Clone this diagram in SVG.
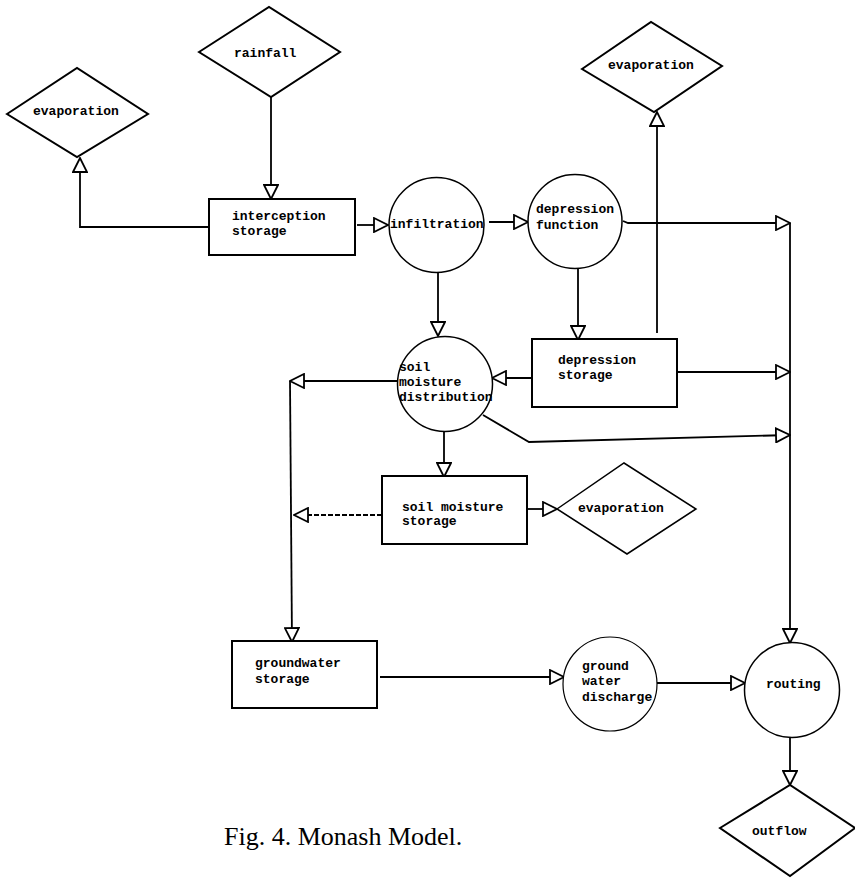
<svg xmlns="http://www.w3.org/2000/svg" width="855" height="879" viewBox="0 0 855 879">
<defs>
<style>
.shape{fill:#fff;stroke:#000;stroke-width:2}
.circ{fill:#fff;stroke:#000;stroke-width:1.5}
.lbl{font-family:"Liberation Mono","DejaVu Sans Mono",monospace;font-weight:bold;font-size:13px;fill:#000}
.cap{font-family:"Liberation Serif","Times New Roman",serif;font-size:26px;fill:#000}
.conn{fill:none;stroke:#000;stroke-width:1.8}
.dash{stroke-dasharray:5 2}
</style>
<marker id="arr" viewBox="0 0 16 16" refX="15" refY="8" markerWidth="16" markerHeight="16" markerUnits="userSpaceOnUse" orient="auto">
<path d="M1,1 L15,8 L1,15 Z" fill="#fff" stroke="#000" stroke-width="1.8"/>
</marker>
</defs>
<rect width="855" height="879" fill="#fff"/>
<g id="connectors">
<path class="conn" d="M271,97 V199" marker-end="url(#arr)"/>
<path class="conn" d="M209,227 H80 V158" marker-end="url(#arr)"/>
<path class="conn" d="M357,225 H388" marker-end="url(#arr)"/>
<path class="conn" d="M489,222 H528" marker-end="url(#arr)"/>
<path class="conn" d="M623,221 L628,223 H790" marker-end="url(#arr)"/>
<path class="conn" d="M438,272 V336" marker-end="url(#arr)"/>
<path class="conn" d="M578,269 V340" marker-end="url(#arr)"/>
<path class="conn" d="M657,333 V112" marker-end="url(#arr)"/>
<path class="conn" d="M677,372 H790" marker-end="url(#arr)"/>
<path class="conn" d="M534,378 H492" marker-end="url(#arr)"/>
<path class="conn" d="M398,381 H290" marker-end="url(#arr)"/>
<path class="conn" d="M290,381 L292,642" marker-end="url(#arr)"/>
<path class="conn" d="M483,415 L529,442 L790,435" marker-end="url(#arr)"/>
<path class="conn" d="M444,432 V477" marker-end="url(#arr)"/>
<path class="conn dash" d="M382,515 H294" marker-end="url(#arr)"/>
<path class="conn" d="M527,509 H557" marker-end="url(#arr)"/>
<path class="conn" d="M380,677 H564" marker-end="url(#arr)"/>
<path class="conn" d="M657,683 H745" marker-end="url(#arr)"/>
<path class="conn" d="M790,223 V643" marker-end="url(#arr)"/>
<path class="conn" d="M790,737 V785" marker-end="url(#arr)"/>
</g>
<g id="evaporation1">
<polygon class="shape" points="7,114 77,68 148,114 77,157"/>
<text class="lbl" x="33" y="115">evaporation</text>
</g>
<g id="rainfall">
<polygon class="shape" points="199,52 269,7 340,52 271,97"/>
<text class="lbl" x="234" y="57">rainfall</text>
</g>
<g id="evaporation2">
<polygon class="shape" points="582,69 651,22 722,66 654,112"/>
<text class="lbl" x="608" y="69">evaporation</text>
</g>
<g id="interception">
<rect class="shape" x="209" y="199" width="146" height="56"/>
<text class="lbl" x="232" y="220">interception</text>
<text class="lbl" x="232" y="235">storage</text>
</g>
<g id="infiltration">
<circle class="circ" cx="436.5" cy="225" r="47.5"/>
<text class="lbl" x="390" y="228">infiltration</text>
</g>
<g id="depression-function">
<circle class="circ" cx="575" cy="221.5" r="47"/>
<text class="lbl" x="536" y="213">depression</text>
<text class="lbl" x="536" y="229">function</text>
</g>
<g id="depression-storage">
<rect class="shape" x="532" y="339" width="145" height="68"/>
<text class="lbl" x="558" y="364">depression</text>
<text class="lbl" x="558" y="379">storage</text>
</g>
<g id="soil-moisture-distribution">
<circle class="circ" cx="445" cy="384" r="47.5"/>
<text class="lbl" x="399" y="371">soil</text>
<text class="lbl" x="399" y="386">moisture</text>
<text class="lbl" x="399" y="401">distribution</text>
</g>
<g id="soil-moisture-storage">
<rect class="shape" x="382" y="476" width="145" height="68"/>
<text class="lbl" x="402" y="511">soil moisture</text>
<text class="lbl" x="402" y="525">storage</text>
</g>
<g id="evaporation3">
<polygon class="shape" points="557,509 624,463 696,509 627,554" style="stroke-width:1.5"/>
<text class="lbl" x="578" y="512">evaporation</text>
</g>
<g id="groundwater-storage">
<rect class="shape" x="232" y="641" width="145" height="67"/>
<text class="lbl" x="255" y="667">groundwater</text>
<text class="lbl" x="255" y="683">storage</text>
</g>
<g id="ground-water-discharge">
<circle class="circ" cx="610" cy="684" r="47" style="stroke-width:1.2"/>
<text class="lbl" x="582" y="670">ground</text>
<text class="lbl" x="582" y="685">water</text>
<text class="lbl" x="582" y="701">discharge</text>
</g>
<g id="routing">
<circle class="circ" cx="792" cy="690" r="47.5"/>
<text class="lbl" x="766" y="688">routing</text>
</g>
<g id="outflow">
<polygon class="shape" points="720,828 790,785 855,828 790,876"/>
<text class="lbl" x="752" y="835">outflow</text>
</g>
<text class="cap" x="224" y="845">Fig. 4. Monash Model.</text>
</svg>
